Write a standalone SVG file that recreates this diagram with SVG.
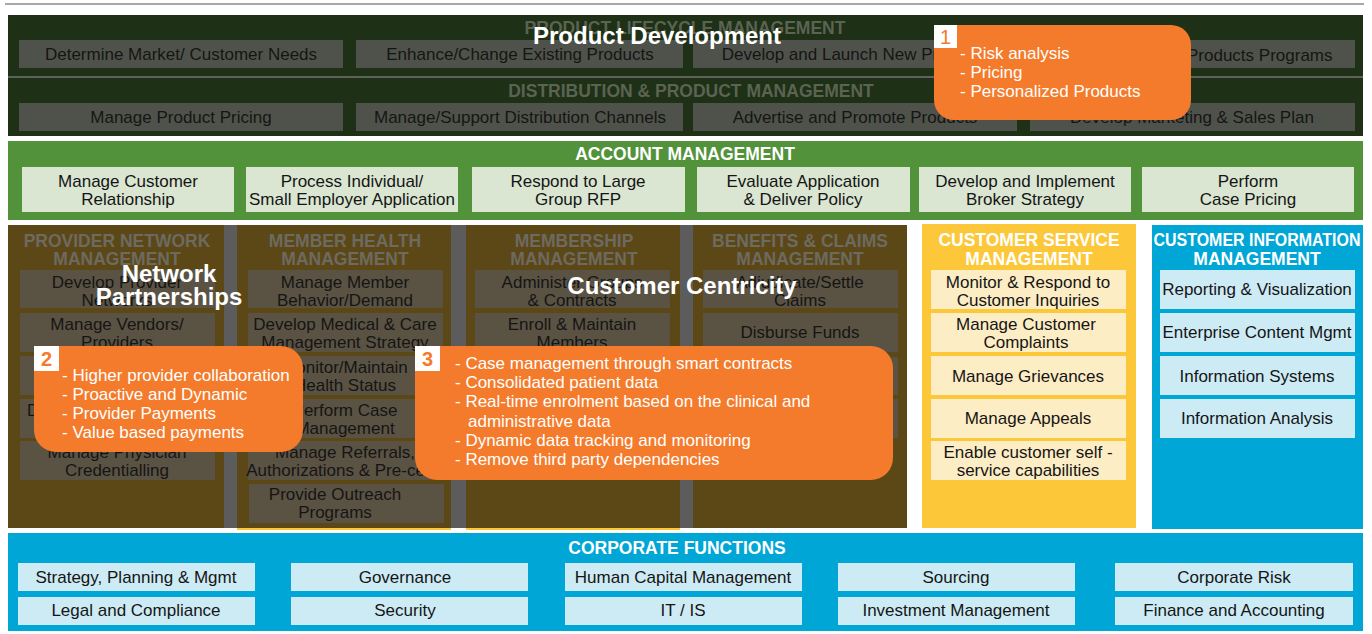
<svg xmlns="http://www.w3.org/2000/svg" width="1372" height="634" viewBox="0 0 1372 634">
<style>
text{font-family:"Liberation Sans",Arial,Helvetica,sans-serif}
.t{font-size:17px;fill:#151515;text-anchor:middle}
.h{font-size:17.5px;font-weight:bold;text-anchor:middle}
.hw{fill:#ffffff}
.hd{fill:#5b6352}
.hb{fill:#6d6a61}
.big{font-size:24px;font-weight:bold;fill:#ffffff;text-anchor:middle}
.c{font-size:17px;fill:#ffffff}
.num{font-size:20px;fill:#f37b2b;text-anchor:middle}
.bt{fill:#4f524a}
.bb{fill:#5a5243}
.ba{fill:#dae6d2}
.by{fill:#fdedc4}
.bl{fill:#cdebf5}
.co{fill:#f37b2b}
.sq{fill:#ffffff}
</style>
<rect x="5" y="3" width="1359" height="2" fill="#a8a8a8"/>

<g id="product-lifecycle">
<rect x="8" y="15" width="1355" height="121" fill="#1e3016"/>
<rect x="8" y="76" width="1355" height="2" fill="#5e625a"/>
<text class="h hd" x="685" y="34">PRODUCT LIFECYCLE MANAGEMENT</text>
<rect class="bt" x="19" y="40" width="324" height="28"/>
<rect class="bt" x="356" y="40" width="327" height="28"/>
<rect class="bt" x="693" y="40" width="324" height="28"/>
<rect class="bt" x="1030" y="40" width="325" height="28"/>
<text class="t" x="181" y="60">Determine Market/ Customer Needs</text>
<text class="t" x="520" y="60">Enhance/Change Existing Products</text>
<text class="t" x="855" y="60">Develop and Launch New Products</text>
<text class="t" x="1187" y="61" style="text-anchor:start">Products Programs</text>
</g>

<g id="distribution">
<text class="h hd" x="691" y="97">DISTRIBUTION &amp; PRODUCT MANAGEMENT</text>
<rect class="bt" x="19" y="103" width="324" height="28"/>
<rect class="bt" x="356" y="103" width="327" height="28"/>
<rect class="bt" x="693" y="103" width="324" height="28"/>
<rect class="bt" x="1030" y="103" width="325" height="28"/>
<text class="t" x="181" y="123">Manage Product Pricing</text>
<text class="t" x="520" y="123">Manage/Support Distribution Channels</text>
<text class="t" x="855" y="123">Advertise and Promote Products</text>
<text class="t" x="1192" y="123">Develop Marketing &amp; Sales Plan</text>
</g>

<g id="product-development-title">
<text class="big" x="657" y="44">Product Development</text>
</g>

<g id="callout-1">
<rect class="co" x="934" y="25" width="257" height="95" rx="20"/>
<rect class="sq" x="934" y="25" width="23" height="23"/>
<text class="num" x="945.5" y="44">1</text>
<text class="c" x="960" y="59">- Risk analysis</text>
<text class="c" x="960" y="78">- Pricing</text>
<text class="c" x="960" y="97">- Personalized Products</text>
</g>

<g id="account-management">
<rect x="8" y="141" width="1355" height="79" fill="#52923a"/>
<text class="h hw" x="685" y="160">ACCOUNT MANAGEMENT</text>
<rect class="ba" x="22" y="167" width="212" height="45"/>
<rect class="ba" x="246" y="167" width="212" height="45"/>
<rect class="ba" x="472" y="167" width="213" height="45"/>
<rect class="ba" x="697" y="167" width="213" height="45"/>
<rect class="ba" x="919" y="167" width="212" height="45"/>
<rect class="ba" x="1142" y="167" width="212" height="45"/>
<text class="t" x="128" y="187">Manage Customer</text>
<text class="t" x="128" y="205">Relationship</text>
<text class="t" x="352" y="187">Process Individual/</text>
<text class="t" x="352" y="205">Small Employer Application</text>
<text class="t" x="578" y="187">Respond to Large</text>
<text class="t" x="578" y="205">Group RFP</text>
<text class="t" x="803" y="187">Evaluate Application</text>
<text class="t" x="803" y="205">&amp; Deliver Policy</text>
<text class="t" x="1025" y="187">Develop and Implement</text>
<text class="t" x="1025" y="205">Broker Strategy</text>
<text class="t" x="1248" y="187">Perform</text>
<text class="t" x="1248" y="205">Case Pricing</text>
</g>

<rect x="8" y="225" width="899" height="303" fill="#5c5c5c"/>

<g id="provider-network">
<rect x="8" y="225" width="216" height="303" fill="#5c4716"/>
<text class="h hb" x="117" y="247">PROVIDER NETWORK</text>
<text class="h hb" x="117" y="265">MANAGEMENT</text>
<rect class="bb" x="20" y="270" width="195" height="38"/>
<rect class="bb" x="20" y="313" width="195" height="39"/>
<rect class="bb" x="20" y="356" width="195" height="39"/>
<rect class="bb" x="20" y="399" width="195" height="39"/>
<rect class="bb" x="20" y="441" width="195" height="39"/>
<text class="t" x="117" y="288">Develop Provider</text>
<text class="t" x="117" y="306">Networks</text>
<text class="t" x="117" y="330">Manage Vendors/</text>
<text class="t" x="117" y="348">Providers</text>
<text class="t" x="27" y="416" style="text-anchor:start">D</text>
<text class="t" x="117" y="458">Manage Physician</text>
<text class="t" x="117" y="476">Credentialling</text>
</g>

<g id="member-health">
<rect x="237" y="225" width="214" height="303" fill="#5c4716"/>
<rect x="237" y="528" width="214" height="2" fill="#fdc73a"/>
<text class="h hb" x="345" y="247">MEMBER HEALTH</text>
<text class="h hb" x="345" y="265">MANAGEMENT</text>
<rect class="bb" x="248" y="270" width="195" height="38"/>
<rect class="bb" x="248" y="313" width="195" height="39"/>
<rect class="bb" x="248" y="356" width="195" height="39"/>
<rect class="bb" x="248" y="399" width="195" height="39"/>
<rect class="bb" x="248" y="441" width="195" height="39"/>
<rect class="bb" x="249" y="484" width="195" height="39"/>
<text class="t" x="345" y="288">Manage Member</text>
<text class="t" x="345" y="306">Behavior/Demand</text>
<text class="t" x="345" y="330">Develop Medical &amp; Care</text>
<text class="t" x="345" y="348">Management Strategy</text>
<text class="t" x="345" y="373">Monitor/Maintain</text>
<text class="t" x="345" y="391">Health Status</text>
<text class="t" x="345" y="416">Perform Case</text>
<text class="t" x="345" y="434">Management</text>
<text class="t" x="345" y="458">Manage Referrals,</text>
<text class="t" x="345" y="476">Authorizations &amp; Pre-certs</text>
<text class="t" x="335" y="500">Provide Outreach</text>
<text class="t" x="335" y="518">Programs</text>
</g>

<g id="membership">
<rect x="466" y="225" width="214" height="303" fill="#5c4716"/>
<rect x="466" y="528" width="214" height="2" fill="#fdc73a"/>
<text class="h hb" x="574" y="247">MEMBERSHIP</text>
<text class="h hb" x="574" y="265">MANAGEMENT</text>
<rect class="bb" x="475" y="270" width="195" height="38"/>
<rect class="bb" x="475" y="313" width="195" height="39"/>
<text class="t" x="572" y="288">Administer Groups</text>
<text class="t" x="572" y="306">&amp; Contracts</text>
<text class="t" x="572" y="330">Enroll &amp; Maintain</text>
<text class="t" x="572" y="348">Members</text>
</g>

<g id="benefits-claims">
<rect x="693" y="225" width="214" height="303" fill="#5c4716"/>
<text class="h hb" x="800" y="247">BENEFITS  &amp; CLAIMS</text>
<text class="h hb" x="800" y="265">MANAGEMENT</text>
<rect class="bb" x="703" y="270" width="195" height="38"/>
<rect class="bb" x="703" y="313" width="195" height="39"/>
<rect class="bb" x="703" y="357" width="195" height="38"/>
<rect class="bb" x="703" y="399" width="195" height="39"/>
<text class="t" x="800" y="288">Adjudicate/Settle</text>
<text class="t" x="800" y="306">Claims</text>
<text class="t" x="800" y="338">Disburse Funds</text>
</g>

<g id="customer-service">
<rect x="922" y="224" width="214" height="304" fill="#fdc73a"/>
<text class="h hw" x="1029" y="246">CUSTOMER SERVICE</text>
<text class="h hw" x="1029" y="265">MANAGEMENT</text>
<rect class="by" x="931" y="270" width="195" height="39"/>
<rect class="by" x="931" y="313" width="195" height="39"/>
<rect class="by" x="931" y="356" width="195" height="39"/>
<rect class="by" x="931" y="399" width="195" height="39"/>
<rect class="by" x="931" y="441" width="195" height="39"/>
<text class="t" x="1028" y="288">Monitor &amp; Respond to</text>
<text class="t" x="1028" y="306">Customer Inquiries</text>
<text class="t" x="1026" y="330">Manage Customer</text>
<text class="t" x="1026" y="348">Complaints</text>
<text class="t" x="1028" y="382">Manage Grievances</text>
<text class="t" x="1028" y="424">Manage Appeals</text>
<text class="t" x="1028" y="458">Enable customer self -</text>
<text class="t" x="1028" y="476">service capabilities</text>
</g>

<g id="customer-information">
<rect x="1152" y="225" width="211" height="304" fill="#00a6d5"/>
<text class="h hw" x="1257" y="246" textLength="207" lengthAdjust="spacingAndGlyphs">CUSTOMER INFORMATION</text>
<text class="h hw" x="1257" y="265">MANAGEMENT</text>
<rect class="bl" x="1160" y="270" width="195" height="39"/>
<rect class="bl" x="1160" y="313" width="195" height="39"/>
<rect class="bl" x="1160" y="356" width="195" height="39"/>
<rect class="bl" x="1160" y="399" width="195" height="39"/>
<text class="t" x="1257" y="295">Reporting &amp; Visualization</text>
<text class="t" x="1257" y="338">Enterprise Content Mgmt</text>
<text class="t" x="1257" y="382">Information Systems</text>
<text class="t" x="1257" y="424">Information Analysis</text>
</g>

<g id="overlay-titles">
<text class="big" x="169" y="282">Network</text>
<text class="big" x="169" y="305">Partnerships</text>
<text class="big" x="682" y="294">Customer Centricity</text>
</g>

<g id="callout-2">
<rect class="co" x="34" y="346" width="269" height="106" rx="22"/>
<rect class="sq" x="34" y="346" width="25" height="25"/>
<text class="num" x="46.5" y="366" font-weight="bold">2</text>
<text class="c" x="62" y="381">- Higher provider collaboration</text>
<text class="c" x="62" y="400">- Proactive and Dynamic</text>
<text class="c" x="62" y="419">- Provider Payments</text>
<text class="c" x="62" y="438">- Value based payments</text>
</g>

<g id="callout-3">
<rect class="co" x="415" y="346" width="478" height="134" rx="22"/>
<rect class="sq" x="415" y="346" width="25" height="25"/>
<text class="num" x="427.5" y="366" font-weight="bold">3</text>
<text class="c" x="455" y="369">- Case management through smart contracts</text>
<text class="c" x="455" y="388">- Consolidated patient data</text>
<text class="c" x="455" y="407">- Real-time enrolment based on the clinical and</text>
<text class="c" x="468" y="427">administrative data</text>
<text class="c" x="455" y="446">- Dynamic data tracking and monitoring</text>
<text class="c" x="455" y="465">- Remove third party dependencies</text>
</g>

<g id="corporate-functions">
<rect x="8" y="533" width="1355" height="98" fill="#00a6d5"/>
<text class="h hw" x="677" y="554">CORPORATE FUNCTIONS</text>
<rect class="bl" x="18" y="563" width="237" height="28"/>
<rect class="bl" x="291" y="563" width="237" height="28"/>
<rect class="bl" x="565" y="563" width="237" height="28"/>
<rect class="bl" x="838" y="563" width="237" height="28"/>
<rect class="bl" x="1115" y="563" width="238" height="28"/>
<rect class="bl" x="18" y="597" width="237" height="28"/>
<rect class="bl" x="291" y="597" width="237" height="28"/>
<rect class="bl" x="565" y="597" width="237" height="28"/>
<rect class="bl" x="838" y="597" width="237" height="28"/>
<rect class="bl" x="1115" y="597" width="238" height="28"/>
<text class="t" x="136" y="583">Strategy, Planning &amp; Mgmt</text>
<text class="t" x="405" y="583">Governance</text>
<text class="t" x="683" y="583">Human Capital Management</text>
<text class="t" x="956" y="583">Sourcing</text>
<text class="t" x="1234" y="583">Corporate Risk</text>
<text class="t" x="136" y="616">Legal and Compliance</text>
<text class="t" x="405" y="616">Security</text>
<text class="t" x="683" y="616">IT / IS</text>
<text class="t" x="956" y="616">Investment Management</text>
<text class="t" x="1234" y="616">Finance and Accounting</text>
</g>

<g id="connectors"></g>
</svg>
